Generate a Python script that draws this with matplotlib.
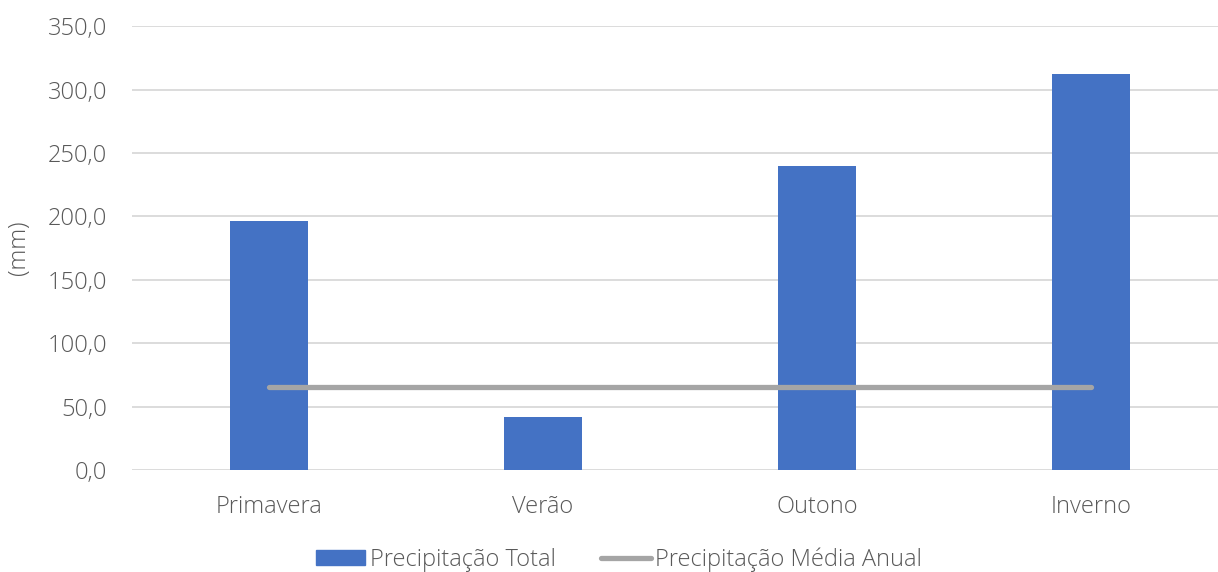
import matplotlib.pyplot as plt
from matplotlib.lines import Line2D
from matplotlib.patches import Patch
from matplotlib.ticker import FuncFormatter

# data
seasons = ["Primavera", "Verão", "Outono", "Inverno"]
total = [196.5, 42.0, 239.5, 312.0]
media_anual = [65.6, 65.6, 65.6, 65.6]

plt.rcParams['font.family'] = ['Open Sans', 'DejaVu Sans']
plt.rcParams['font.weight'] = 'light'
txt = '#595959'

fig = plt.figure(figsize=(12.18, 5.72), dpi=100)
ax = fig.add_axes([132/1218, 1-470/572, (1228-132)/1218, (470-26.3)/572])

x = range(len(seasons))
ax.bar(x, total, width=0.285, color='#4472C4', zorder=2)
ax.plot(x, media_anual, color='#A5A5A5', linewidth=3.8, solid_capstyle='round', zorder=3)

ax.set_xlim(-0.5, 3.5)
ax.set_ylim(0, 350)
ax.set_yticks(range(0, 351, 50))
ax.yaxis.set_major_formatter(FuncFormatter(lambda v, p: f"{v:.1f}".replace('.', ',')))
ax.set_xticks(list(x))
ax.set_xticklabels(seasons)
ax.grid(axis='y', color='#D9D9D9', linewidth=1.3, zorder=0)
for s in ax.spines.values():
    s.set_visible(False)
ax.tick_params(length=0, labelsize=17, colors=txt)
ax.tick_params(axis='y', pad=18)
ax.tick_params(axis='x', pad=18)
ax.set_ylabel("(mm)", fontsize=17, color=txt, labelpad=12, fontweight='light')

handles = [Patch(color='#4472C4', label='Precipitação Total'),
           Line2D([0], [0], color='#A5A5A5', linewidth=3.8, solid_capstyle='round',
                  label='Precipitação Média Anual')]
fig.legend(handles=handles, loc='center', bbox_to_anchor=(619/1218, 1-560/572), ncol=2,
           frameon=False, fontsize=17, labelcolor=txt, handlelength=2.1, handletextpad=0.2,
           columnspacing=1.9, handleheight=0.6, borderpad=0)

fig.savefig("out.png", dpi=100)
